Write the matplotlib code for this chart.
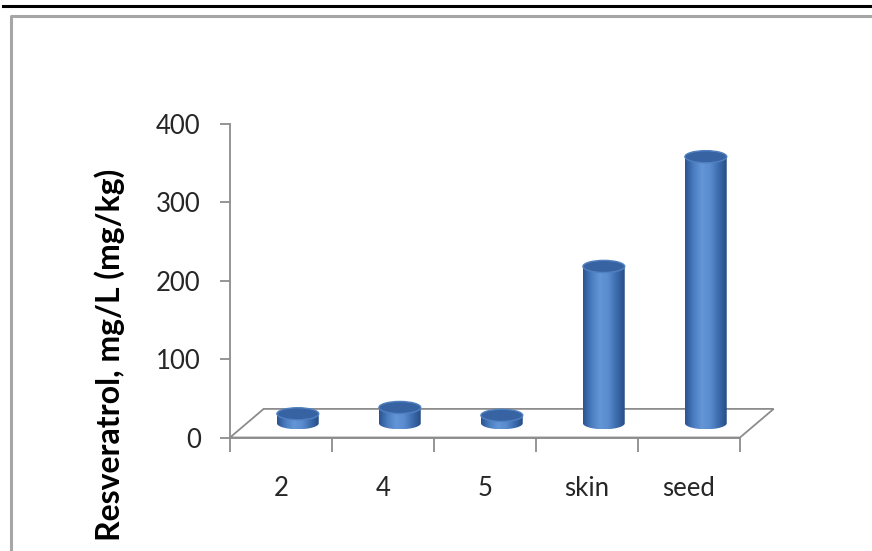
import numpy as np
import matplotlib.pyplot as plt
from matplotlib.patches import Ellipse, PathPatch, Polygon
from matplotlib.path import Path
from matplotlib.lines import Line2D
from matplotlib.colors import LinearSegmentedColormap

# data
categories = ["2", "4", "5", "skin", "seed"]
resveratrol = [12, 20, 10, 200, 340]
yticks = [0, 100, 200, 300, 400]

plt.rcParams['font.family'] = ['Lato', 'DejaVu Sans']

fig = plt.figure(figsize=(8.72, 5.51), dpi=100)
fig.patch.set_facecolor('white')

# outer frame and rule line
fig.add_artist(Line2D([3 / 872, 1], [1 - 6 / 551, 1 - 6 / 551], color='black', lw=2.2))
fig.add_artist(Line2D([11 / 872, 11 / 872, 1], [0, 1 - 16 / 551, 1 - 16 / 551],
                      color='#a6a6a6', lw=2.2))

ax = fig.add_axes([230 / 872, 113.5 / 551, 510 / 872, 313.5 / 551])

axis_col = '#8c8c8c'
text_col = '#262626'

# 3d floor: depth offset in data units
depth_x = 0.33
depth_y = 36.5
n = len(categories)
floor = Polygon([(-0.5, 0), (n - 0.5, 0), (n - 0.5 + depth_x, depth_y), (-0.5 + depth_x, depth_y)],
                closed=True, facecolor='white', edgecolor=axis_col, lw=1.3, clip_on=False, zorder=1)
ax.add_patch(floor)

# cylinders
cmap = LinearSegmentedColormap.from_list('cyl', ['#2a5390', '#4a7cc0', '#6396d6', '#5a8ccf', '#3d6cad', '#264d88'])
grad = np.linspace(0, 1, 200).reshape(1, -1)
bar_w = 0.41
ell_h = 15.5
for i, v in enumerate(resveratrol):
    cx = i + depth_x / 2
    y0 = depth_y / 2
    y1 = y0 + v
    left, right = cx - bar_w / 2, cx + bar_w / 2
    # outline: top edge straight, bottom half ellipse
    t = np.linspace(np.pi, 2 * np.pi, 60)
    bottom = np.column_stack([cx + bar_w / 2 * np.cos(t), y0 + ell_h / 2 * np.sin(t)])
    verts = np.vstack([[left, y1], bottom, [right, y1], [left, y1]])
    clip = PathPatch(Path(verts), facecolor='none', edgecolor='none', transform=ax.transData)
    ax.add_patch(clip)
    img = ax.imshow(grad, cmap=cmap, extent=[left, right, y0 - ell_h / 2, y1],
                    aspect='auto', origin='lower', zorder=3, interpolation='bilinear')
    img.set_clip_path(clip)
    top = Ellipse((cx, y1), bar_w, ell_h, facecolor='#3763a3', edgecolor='#5080c0', lw=1.0, zorder=4)
    ax.add_patch(top)

ax.set_xlim(-0.5, n - 0.5)
ax.set_ylim(0, 400)

for s in ['top', 'right']:
    ax.spines[s].set_visible(False)
for s in ['left', 'bottom']:
    ax.spines[s].set_color(axis_col)
    ax.spines[s].set_linewidth(1.3)

ax.set_yticks(yticks)
ax.set_yticklabels([str(t) for t in yticks], fontsize=18.5, color=text_col)
ax.tick_params(axis='y', direction='out', length=7, width=1.3, color=axis_col, pad=14)

ax.set_xticks(range(n))
ax.set_xticklabels(categories, fontsize=18.5, color=text_col)
ax.set_xticks(np.arange(-0.5, n), minor=True)
ax.tick_params(axis='x', which='major', length=0, pad=28)
ax.tick_params(axis='x', which='minor', direction='out', length=10, width=1.3, color=axis_col)

fig.text(110 / 872, 1 - 355 / 551, 'Resveratrol, mg/L (mg/kg)', rotation=90,
         ha='center', va='center', fontsize=23, fontweight='bold', color='black')

fig.savefig('out.png', dpi=100, facecolor='white')
